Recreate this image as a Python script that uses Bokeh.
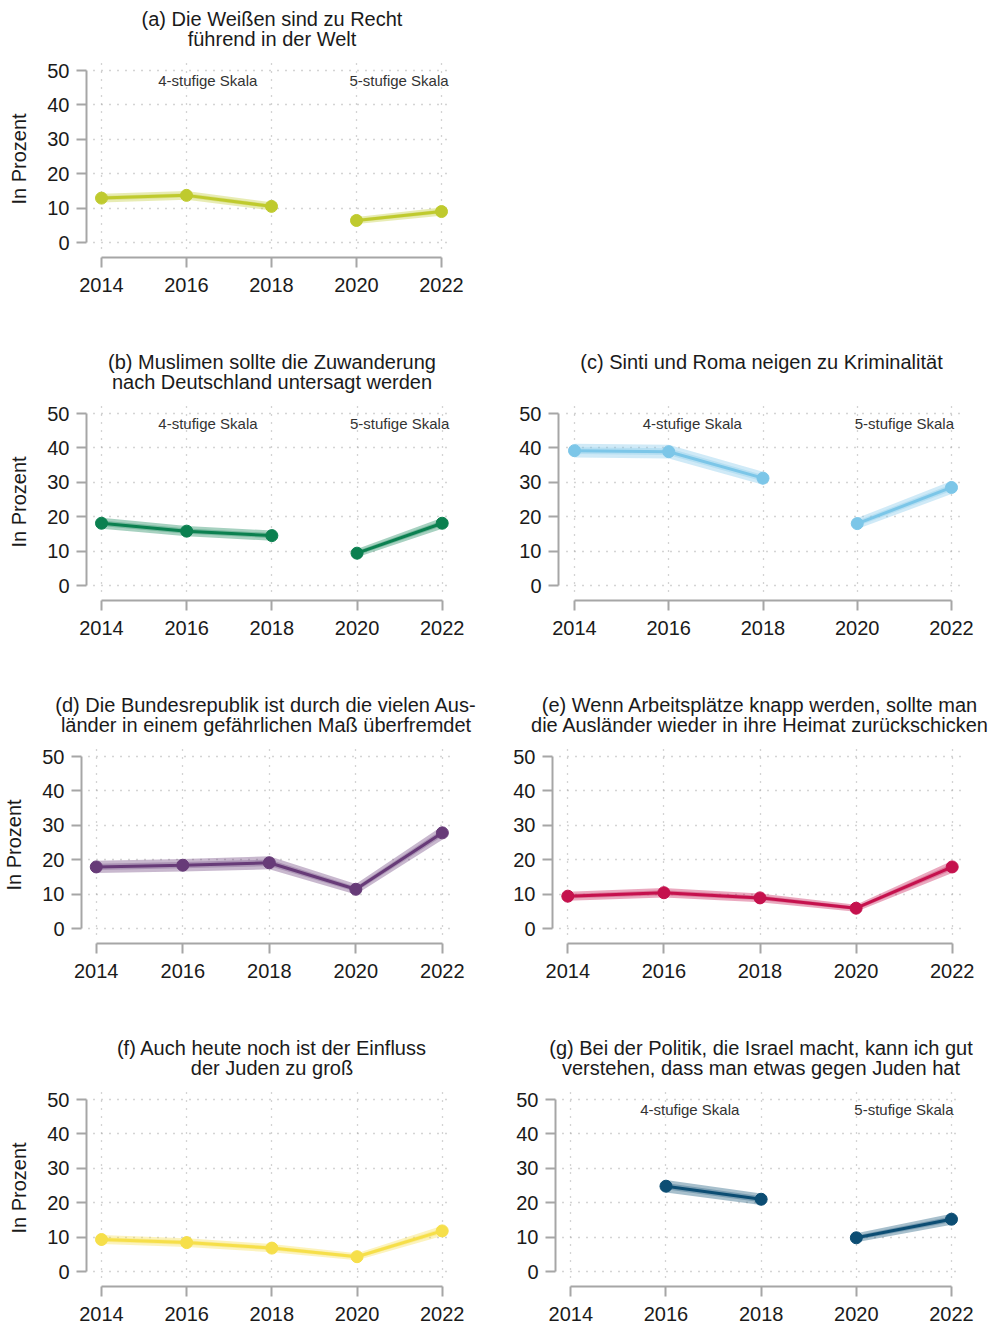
from bokeh.plotting import figure
from bokeh.models import ColumnDataSource, FixedTicker, Spacer
from bokeh.layouts import column, row
from bokeh.embed import file_html
from bokeh.resources import INLINE
from bokeh.core.properties import value

# ---------------- data ----------------
years = [2014, 2016, 2018, 2020, 2022]
y_ticks = [0, 10, 20, 30, 40, 50]
scale_labels = ["4-stufige Skala", "5-stufige Skala"]
scale_of_year = [4, 4, 4, 5, 5]
y_label = "In Prozent"

a_title = ["(a) Die Weißen sind zu Recht", "führend in der Welt"]
a_values = [12.9, 13.7, 10.5, 6.4, 9.0]
a_ci = [1.3, 1.3, 1.2, 1.0, 1.2]

b_title = ["(b) Muslimen sollte die Zuwanderung", "nach Deutschland untersagt werden"]
b_values = [18.1, 15.8, 14.5, 9.4, 18.1]
b_ci = [1.6, 1.5, 1.5, 1.2, 1.6]

c_title = ["(c) Sinti und Roma neigen zu Kriminalität"]
c_values = [39.2, 38.9, 31.2, 18.0, 28.5]
c_ci = [2.0, 2.0, 1.9, 1.6, 1.9]

d_title = ["(d) Die Bundesrepublik ist durch die vielen Aus-",
           "länder in einem gefährlichen Maß überfremdet"]
d_values = [17.9, 18.4, 19.1, 11.4, 27.8]
d_ci = [1.8, 1.8, 1.9, 1.5, 2.0]

e_title = ["(e) Wenn Arbeitsplätze knapp werden, sollte man",
           "die Ausländer wieder in ihre Heimat zurückschicken"]
e_values = [9.4, 10.4, 8.9, 5.9, 17.9]
e_ci = [1.3, 1.4, 1.3, 1.0, 1.8]

f_title = ["(f) Auch heute noch ist der Einfluss", "der Juden zu groß"]
f_values = [9.3, 8.4, 6.8, 4.3, 11.8]
f_ci = [1.3, 1.3, 1.2, 1.0, 1.5]

g_title = ["(g) Bei der Politik, die Israel macht, kann ich gut",
           "verstehen, dass man etwas gegen Juden hat"]
g_values = [None, 24.8, 21.0, 9.8, 15.2]
g_ci = [None, 1.8, 1.7, 1.3, 1.6]

colors = {
    "a": "#bfca2e", "b": "#0b8050", "c": "#7cc6e8", "d": "#673b78",
    "e": "#c5114d", "f": "#f6df4a", "g": "#0c4d73",
}

FONT = "Liberation Sans"
AXIS_GRAY = "#a6a6a6"
TEXT_COL = "#1a1a1a"
TH = 50            # height of the title strip above each panel
LW, RW = 490, 501  # column widths
ROW_H, LAST_H = 343, 294


def make_title(lines, fig_w, cx):
    t = figure(width=fig_w, height=TH, x_range=(0, fig_w), y_range=(TH, 0),
               x_axis_location=None, y_axis_location=None,
               output_backend="svg", toolbar_location=None, min_border=0,
               background_fill_color="white", border_fill_color="white")
    t.outline_line_color = None
    t.grid.visible = False
    line_y = [18.5, 38.0][:len(lines)]
    src = ColumnDataSource(dict(x=[cx] * len(lines), y=line_y, t=lines))
    t.text(x="x", y="y", text="t", source=src, text_align="center",
           text_baseline="middle", text_font=value(FONT),
           text_font_size="20px", text_color=TEXT_COL)
    return t


def make_panel(title, vals, ci, color, split, annotate, show_ylabel,
               fig_w, fig_h, fl, fr, x2014, x2022, x_std):
    ft = 60 - TH
    fb = ft + 197
    pxy = (x2022 - x2014) / 8.0
    x0 = 2014 - (x2014 - fl) / pxy
    x1 = 2022 + (fr - x2022) / pxy
    upy = (197 - 25) / 50.0
    y0 = 0 - 15 / upy
    y1 = 50 + 10 / upy

    p = figure(width=fig_w, height=fig_h - TH, x_range=(x0, x1), y_range=(y0, y1),
               output_backend="svg", toolbar_location=None,
               min_border_left=fl, min_border_right=fig_w - fr,
               min_border_top=ft, min_border_bottom=fig_h - TH - fb,
               background_fill_color="white", border_fill_color="white")
    p.outline_line_color = None

    p.xaxis.ticker = FixedTicker(ticks=years)
    p.yaxis.ticker = FixedTicker(ticks=y_ticks)
    p.xaxis.bounds = (2014, 2022)
    p.yaxis.bounds = (0, 50)
    for ax in (p.xaxis[0], p.yaxis[0]):
        ax.axis_line_color = AXIS_GRAY
        ax.axis_line_width = 2
        ax.major_tick_line_color = AXIS_GRAY
        ax.major_tick_line_width = 2
        ax.major_tick_out = 10
        ax.major_tick_in = 0
        ax.minor_tick_line_color = None
        ax.major_label_text_font = FONT
        ax.major_label_text_font_size = "20px"
        ax.major_label_text_color = TEXT_COL
    p.xaxis.major_label_standoff = x_std
    p.yaxis.major_label_standoff = 7
    if show_ylabel:
        p.yaxis.axis_label = y_label
        p.yaxis.axis_label_text_font = FONT
        p.yaxis.axis_label_text_font_size = "20px"
        p.yaxis.axis_label_text_font_style = "normal"
        p.yaxis.axis_label_text_color = TEXT_COL
        p.yaxis.axis_label_standoff = 14

    p.xgrid.ticker = FixedTicker(ticks=years)
    p.ygrid.ticker = FixedTicker(ticks=y_ticks)
    for g in (p.xgrid[0], p.ygrid[0]):
        g.grid_line_color = "#a8a8a8"
        g.grid_line_width = 1.3
        g.grid_line_dash = "1 7"
    try:
        p.xgrid[0].cross_bounds = (0 - 6 / upy, y1)
        p.ygrid[0].cross_bounds = (2014 - 8 / pxy, x1)
    except Exception:
        pass

    if split:
        groups = [[i for i in range(5) if scale_of_year[i] == 4],
                  [i for i in range(5) if scale_of_year[i] == 5]]
    else:
        groups = [list(range(5))]

    for grp in groups:
        idx = [i for i in grp if vals[i] is not None]
        xs = [years[i] for i in idx]
        vs = [vals[i] for i in idx]
        cs = [ci[i] for i in idx]
        src = ColumnDataSource(dict(
            x=xs, y=vs,
            lo=[v - c for v, c in zip(vs, cs)], hi=[v + c for v, c in zip(vs, cs)],
            lo2=[v - 0.5 * c for v, c in zip(vs, cs)], hi2=[v + 0.5 * c for v, c in zip(vs, cs)],
        ))
        p.varea(x="x", y1="lo", y2="hi", source=src, fill_color=color, fill_alpha=0.36)
        p.varea(x="x", y1="lo2", y2="hi2", source=src, fill_color=color, fill_alpha=0.3)
        p.line("x", "y", source=src, line_color=color, line_width=3)
        p.scatter("x", "y", source=src, size=12, fill_color=color, line_color=color)

    if annotate:
        asrc = ColumnDataSource(dict(x=[2016.5, 2021.0], y=[47.0, 47.0], t=scale_labels))
        p.text(x="x", y="y", text="t", source=asrc, text_align="center",
               text_baseline="middle", text_font=value(FONT),
               text_font_size="15px", text_color="#333333")

    t = make_title(title, fig_w, (fl + fr) / 2.0 + 2)
    return t, p


ta, pa = make_panel(a_title, a_values, a_ci, colors["a"], True, True, True,
                    LW, ROW_H, 86, 453, 101, 441, 10)
tb, pb = make_panel(b_title, b_values, b_ci, colors["b"], True, True, True,
                    LW, ROW_H, 86, 453, 101, 441.7, 10)
tc, pc = make_panel(c_title, c_values, c_ci, colors["c"], True, True, False,
                    RW, ROW_H, 68, 470, 84, 461, 10)
td, pd_ = make_panel(d_title, d_values, d_ci, colors["d"], False, False, True,
                     LW, ROW_H, 75, 452, 90, 441.7, 10)
te, pe = make_panel(e_title, e_values, e_ci, colors["e"], False, False, False,
                    RW, ROW_H, 62, 473, 77.3, 461.7, 10)
tf, pf = make_panel(f_title, f_values, f_ci, colors["f"], False, False, True,
                    LW, LAST_H, 86, 453, 101, 441.7, 10)
tg, pg = make_panel(g_title, g_values, g_ci, colors["g"], True, True, False,
                    RW, LAST_H, 65, 472, 80.3, 461, 10)

layout = column(
    row(ta, Spacer(width=RW, height=TH)),
    row(pa, Spacer(width=RW, height=ROW_H - TH)),
    row(tb, tc),
    row(pb, pc),
    row(td, te),
    row(pd_, pe),
    row(tf, tg),
    row(pf, pg),
)

open("out.html", "w").write(file_html(layout, INLINE))
